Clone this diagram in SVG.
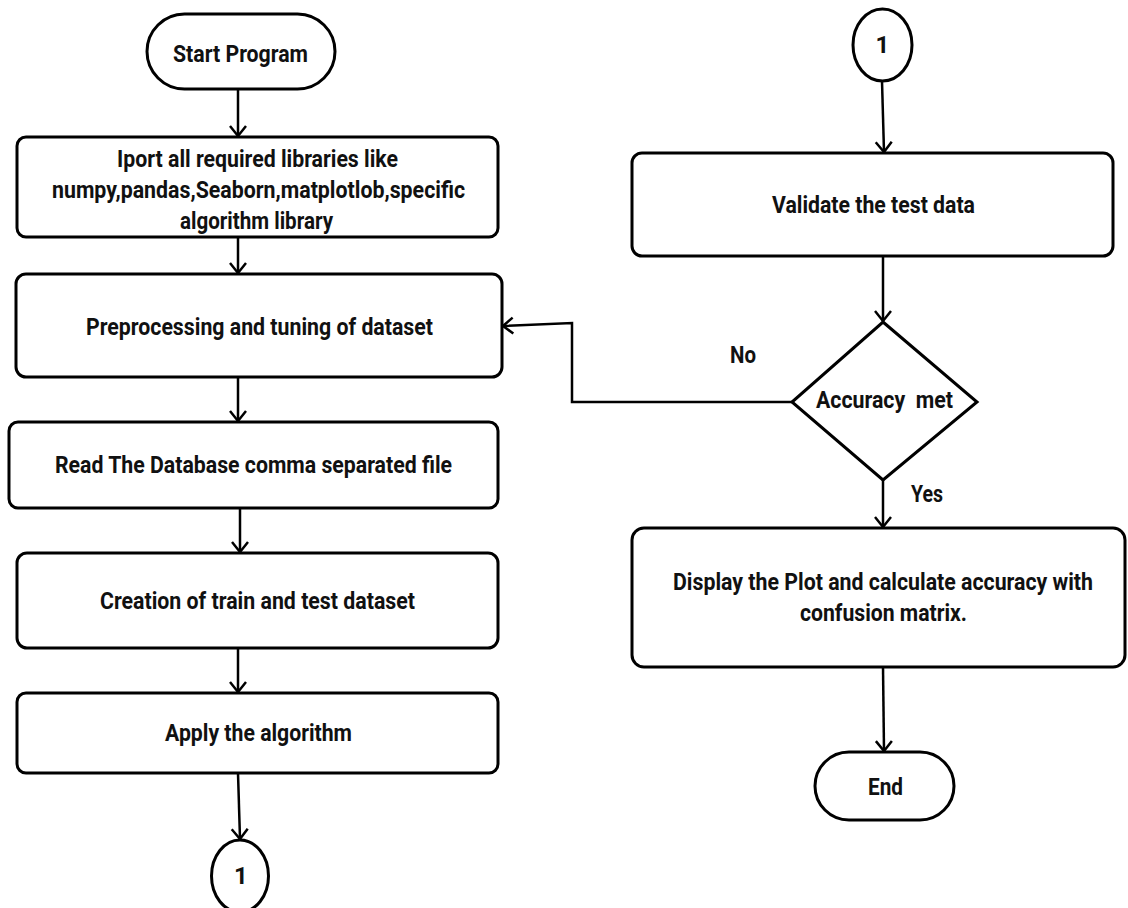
<svg xmlns="http://www.w3.org/2000/svg" width="1128" height="908" viewBox="0 0 1128 908">
<defs>
<style>
.box{fill:#fff;stroke:#000;stroke-width:3}
.ln{fill:none;stroke:#000;stroke-width:2.5}
.t{font-family:Roboto,"Liberation Sans",sans-serif;font-weight:bold;font-size:24px;fill:#111;text-anchor:middle}
</style>
<marker id="ah" viewBox="-12 -10 14 20" refX="0" refY="0" markerWidth="14" markerHeight="20" markerUnits="userSpaceOnUse" orient="auto">
<path d="M-10,-8 L0,0 L-10,8" fill="none" stroke="#000" stroke-width="2.5"/>
</marker>
</defs>
<rect width="1128" height="908" fill="#fff"/>
<g id="connectors">
<line class="ln" x1="238" y1="89" x2="238" y2="136" marker-end="url(#ah)"/>
<line class="ln" x1="238" y1="237" x2="238" y2="273" marker-end="url(#ah)"/>
<line class="ln" x1="238" y1="377" x2="238" y2="421" marker-end="url(#ah)"/>
<line class="ln" x1="240" y1="508" x2="240" y2="552" marker-end="url(#ah)"/>
<line class="ln" x1="238" y1="648" x2="238" y2="692" marker-end="url(#ah)"/>
<line class="ln" x1="238" y1="773" x2="240" y2="839" marker-end="url(#ah)"/>
<line class="ln" x1="882" y1="81" x2="884" y2="152" marker-end="url(#ah)"/>
<line class="ln" x1="883" y1="256" x2="883" y2="321" marker-end="url(#ah)"/>
<polyline class="ln" points="792,402 572,402 572,323 503,326" marker-end="url(#ah)"/>
<line class="ln" x1="883" y1="480" x2="883" y2="527" marker-end="url(#ah)"/>
<line class="ln" x1="883" y1="667" x2="884" y2="751" marker-end="url(#ah)"/>
<text class="t" x="743" y="363" textLength="26" lengthAdjust="spacingAndGlyphs">No</text>
<text class="t" x="927" y="502" textLength="32" lengthAdjust="spacingAndGlyphs">Yes</text>
</g>
<g id="start">
<rect class="box" x="147" y="14" width="188" height="75" rx="37.5"/>
<text class="t" x="240.5" y="62" textLength="135" lengthAdjust="spacingAndGlyphs">Start Program</text>
</g>
<g id="import">
<rect class="box" x="17" y="137" width="481" height="100" rx="9"/>
<text class="t" x="257.5" y="167" textLength="281" lengthAdjust="spacingAndGlyphs">Iport all required libraries like</text>
<text class="t" x="258.5" y="198" textLength="413" lengthAdjust="spacingAndGlyphs">numpy,pandas,Seaborn,matplotlob,specific</text>
<text class="t" x="256.5" y="229" textLength="153" lengthAdjust="spacingAndGlyphs">algorithm library</text>
</g>
<g id="preprocess">
<rect class="box" x="16" y="274" width="486" height="103" rx="10"/>
<text class="t" x="259.5" y="335" textLength="347" lengthAdjust="spacingAndGlyphs">Preprocessing and tuning of dataset</text>
</g>
<g id="read">
<rect class="box" x="9" y="422" width="489" height="86" rx="9"/>
<text class="t" x="253.5" y="473" textLength="397" lengthAdjust="spacingAndGlyphs">Read The Database comma separated file</text>
</g>
<g id="create">
<rect class="box" x="17" y="553" width="481" height="95" rx="10"/>
<text class="t" x="257.5" y="609" textLength="315" lengthAdjust="spacingAndGlyphs">Creation of train and test dataset</text>
</g>
<g id="apply">
<rect class="box" x="17" y="693" width="481" height="80" rx="9"/>
<text class="t" x="258.5" y="741" textLength="187" lengthAdjust="spacingAndGlyphs">Apply the algorithm</text>
</g>
<g id="conn-out">
<ellipse class="box" cx="240" cy="876" rx="28.5" ry="36"/>
<text class="t" x="241" y="884">1</text>
</g>
<g id="conn-in">
<ellipse class="box" cx="882.5" cy="45" rx="29.5" ry="36"/>
<text class="t" x="882.5" y="53">1</text>
</g>
<g id="validate">
<rect class="box" x="632" y="153" width="481" height="103" rx="10"/>
<text class="t" x="873.5" y="213" textLength="203" lengthAdjust="spacingAndGlyphs">Validate the test data</text>
</g>
<g id="decision">
<polygon class="box" points="883,322 977,402 883,480 792,402"/>
<text class="t" x="884.5" y="408" textLength="137" lengthAdjust="spacingAndGlyphs" xml:space="preserve">Accuracy  met</text>
</g>
<g id="display">
<rect class="box" x="632" y="528" width="493" height="139" rx="12"/>
<text class="t" x="883" y="590" textLength="420" lengthAdjust="spacingAndGlyphs">Display the Plot and calculate accuracy with</text>
<text class="t" x="883.5" y="621" textLength="167" lengthAdjust="spacingAndGlyphs">confusion matrix.</text>
</g>
<g id="end">
<rect class="box" x="815" y="752" width="139" height="68" rx="34"/>
<text class="t" x="885.5" y="795" textLength="35" lengthAdjust="spacingAndGlyphs">End</text>
</g>
</svg>
